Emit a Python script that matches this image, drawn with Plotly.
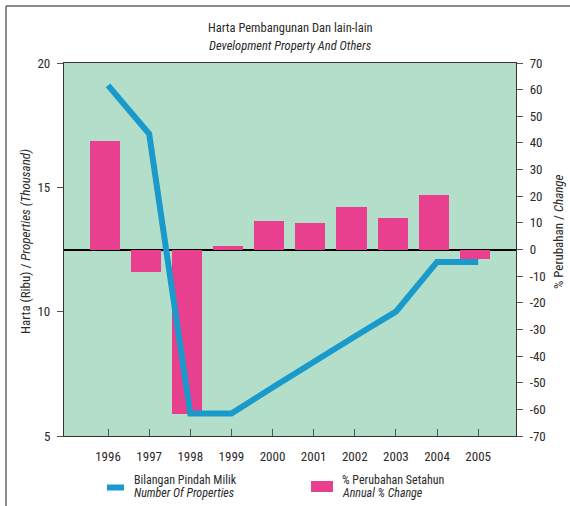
import plotly.graph_objects as go

years = [1996, 1997, 1998, 1999, 2000, 2001, 2002, 2003, 2004, 2005]
properties_thousand = [19.1, 17.15, 5.9, 5.9, 6.95, 8.0, 9.0, 10.0, 12.0, 12.0]
annual_pct_change = [40.7, -8.4, -61.6, 1.4, 10.7, 10.0, 16.0, 11.8, 20.5, -3.6]
left_ticks = [5, 10, 15, 20]
right_ticks = list(range(-70, 71, 10))

FONT = "Liberation Sans Narrow, Arial Narrow, Roboto Condensed, sans-serif"
TXT = "#2a2a2a"
PINK = "#e8408f"
BLUE = "#1a9aca"
BG = "#b3dfca"

fig = go.Figure()
# Bars on the base (right-side) axis so the line overlay is drawn above them
fig.add_trace(go.Bar(
    x=years, y=annual_pct_change, yaxis="y",
    marker=dict(color=PINK, line=dict(width=0)),
    width=0.73, offset=-0.445, name="% Perubahan Setahun", showlegend=False,
))
fig.add_trace(go.Scatter(
    x=years, y=properties_thousand, yaxis="y2", mode="lines",
    line=dict(color=BLUE, width=6), name="Bilangan Pindah Milik", showlegend=False,
))

L, R, T, B = 64, 54, 63, 70
PW, PH = 570 - L - R, 506 - T - B


def px(x):
    return (x - L) / PW


def py(y):
    return (506 - B - y) / PH


fig.update_layout(
    width=570, height=506,
    margin=dict(l=L, r=R, t=T, b=B, pad=0),
    paper_bgcolor="white", plot_bgcolor=BG,
    font=dict(family=FONT, size=13, color=TXT),
    bargap=0,
    xaxis=dict(
        range=[1994.93, 2005.92], tickmode="array", tickvals=years,
        ticktext=[str(y) for y in years],
        showgrid=False, zeroline=False, showline=True, mirror=True,
        linecolor="#333333", linewidth=1.2,
        ticks="inside", ticklen=7, tickcolor="#555555", tickwidth=1.2,
        ticklabelstandoff=8,
    ),
    yaxis=dict(
        range=[-70, 70], tickmode="array", tickvals=right_ticks,
        ticktext=[str(v) for v in right_ticks], side="right",
        showgrid=False, zeroline=True, zerolinecolor="black", zerolinewidth=1.5,
        showline=True, linecolor="#333333", linewidth=1.2,
        ticks="outside", ticklen=6, tickcolor="#555555", ticklabelstandoff=4,
    ),
    yaxis2=dict(
        range=[5, 20], tickmode="array", tickvals=left_ticks,
        ticktext=[str(v) for v in left_ticks],
        overlaying="y", side="left",
        showgrid=False, zeroline=False,
        showline=True, linecolor="#333333", linewidth=1.2,
        ticks="outside", ticklen=6, tickcolor="#555555", ticklabelstandoff=4,
    ),
)

shapes = [
    dict(type="line", xref="paper", yref="paper", x0=px(6), x1=px(570), y0=py(6), y1=py(6),
         line=dict(color="#666666", width=1.5)),
    dict(type="line", xref="paper", yref="paper", x0=px(6), x1=px(6), y0=py(6), y1=py(506),
         line=dict(color="#666666", width=1.5)),
    dict(type="line", xref="paper", yref="paper", x0=px(107), x1=px(124), y0=py(487.5), y1=py(487.5),
         line=dict(color=BLUE, width=6)),
    dict(type="rect", xref="paper", yref="paper", x0=px(311), x1=px(333), y0=py(481), y1=py(492),
         fillcolor=PINK, line=dict(width=0)),
]
fig.update_layout(shapes=shapes)

ann = [
    dict(text="Harta Pembangunan Dan lain-lain", x=0.5, y=py(28), size=12.5),
    dict(text="<i>Development Property And Others</i>", x=0.5, y=py(46), size=12.5),
    dict(text="Bilangan Pindah Milik", x=px(132), y=py(480), size=12, xanchor="left"),
    dict(text="<i>Number Of Properties</i>", x=px(132), y=py(493), size=12, xanchor="left"),
    dict(text="% Perubahan Setahun", x=px(340), y=py(480), size=12, xanchor="left"),
    dict(text="<i>Annual % Change</i>", x=px(340), y=py(493), size=12, xanchor="left"),
    dict(text="Harta (Ribu) / <i>Properties (Thousand)</i>", x=px(25), y=py(242), size=13, angle=-90),
    dict(text="% Perubahan / <i>Change</i>", x=px(558), y=py(232), size=13, angle=-90),
]
for a in ann:
    fig.add_annotation(
        text=a["text"], x=a["x"], y=a["y"], xref="paper", yref="paper",
        xanchor=a.get("xanchor", "center"), yanchor="middle", showarrow=False,
        textangle=a.get("angle", 0), font=dict(family=FONT, size=a["size"], color=TXT),
    )

fig.write_html(
    "out.html",
    config={"displayModeBar": False},
    post_script="document.body.style.margin='0';document.body.style.overflow='hidden';",
)
